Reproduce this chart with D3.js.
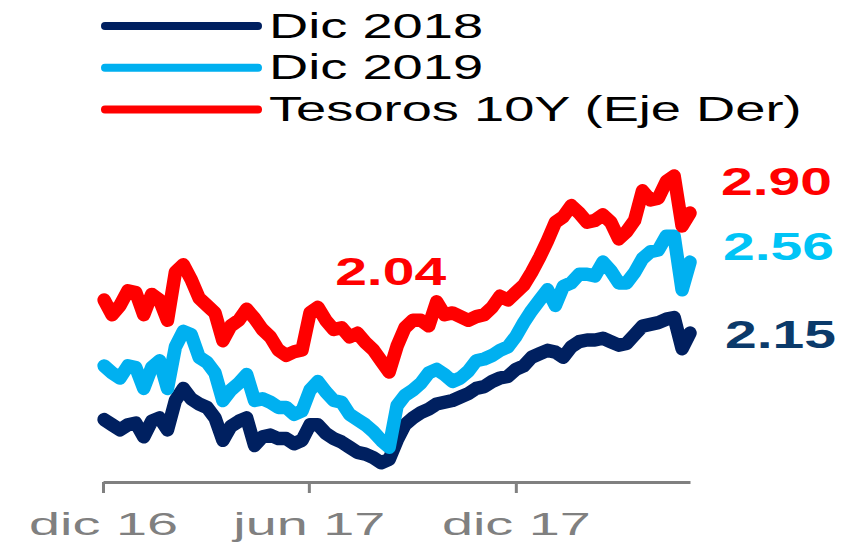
<!DOCTYPE html>
<html>
<head>
<meta charset="utf-8">
<script src="https://cdn.jsdelivr.net/npm/d3@7"></script>
<style>
    body { margin: 0; background: #fff; }
    svg { display: block; font-family: "Liberation Sans", Arial, sans-serif; }
    .x.axis path, .x.axis line { stroke: #808080; stroke-width: 3; }
    .x.axis text { fill: #808080; font-size: 31px; }
</style>
</head>
<body>
<div class="chartContainer"></div>
<script>
//weekly closes, dic 2016 - may 2018
const firstDay = new Date(2016, 11, 2);
const lastDay = new Date(2018, 4, 5);

//implied rate, Dic 2018 contract (left axis)
const dic2018 = [1.65, 1.62, 1.59, 1.62, 1.63, 1.55, 1.64, 1.66, 1.59, 1.76,
                 1.83, 1.77, 1.74, 1.72, 1.66, 1.53, 1.61, 1.64, 1.66, 1.50,
                 1.55, 1.56, 1.54, 1.54, 1.51, 1.53, 1.62, 1.62, 1.57, 1.54,
                 1.52, 1.49, 1.46, 1.45, 1.43, 1.40, 1.42, 1.53, 1.62, 1.66,
                 1.69, 1.71, 1.74, 1.75, 1.76, 1.78, 1.80, 1.83, 1.84, 1.87,
                 1.89, 1.90, 1.94, 1.96, 2.01, 2.03, 2.05, 2.04, 2.01, 2.07,
                 2.10, 2.11, 2.11, 2.12, 2.10, 2.08, 2.09, 2.14, 2.19, 2.20,
                 2.21, 2.23, 2.24, 2.06, 2.15];

//implied rate, Dic 2019 contract (left axis)
const dic2019 = [1.96, 1.92, 1.89, 1.96, 1.95, 1.83, 1.95, 1.99, 1.83, 2.07,
                 2.16, 2.14, 2.01, 1.98, 1.92, 1.76, 1.82, 1.86, 1.91, 1.76,
                 1.77, 1.75, 1.72, 1.72, 1.68, 1.70, 1.82, 1.87, 1.81, 1.76,
                 1.75, 1.68, 1.65, 1.62, 1.58, 1.53, 1.49, 1.73, 1.79, 1.82,
                 1.86, 1.92, 1.94, 1.91, 1.87, 1.89, 1.93, 1.99, 2.00, 2.02,
                 2.05, 2.07, 2.13, 2.21, 2.28, 2.34, 2.40, 2.31, 2.42, 2.44,
                 2.49, 2.49, 2.48, 2.56, 2.51, 2.44, 2.44, 2.50, 2.58, 2.62,
                 2.63, 2.71, 2.71, 2.40, 2.56];

//10Y treasury yield (right axis)
const tesoros10y = [2.43, 2.35, 2.40, 2.48, 2.47, 2.35, 2.46, 2.43, 2.32, 2.58,
                    2.62, 2.54, 2.44, 2.40, 2.36, 2.21, 2.29, 2.32, 2.38, 2.33,
                    2.27, 2.23, 2.16, 2.13, 2.15, 2.16, 2.36, 2.39, 2.32, 2.27,
                    2.28, 2.23, 2.25, 2.20, 2.16, 2.10, 2.04, 2.18, 2.28, 2.32,
                    2.32, 2.29, 2.42, 2.35, 2.36, 2.34, 2.32, 2.34, 2.35, 2.39,
                    2.45, 2.43, 2.47, 2.51, 2.58, 2.66, 2.75, 2.85, 2.88, 2.94,
                    2.90, 2.85, 2.86, 2.89, 2.85, 2.76, 2.80, 2.86, 3.02, 2.97,
                    2.98, 3.07, 3.10, 2.83, 2.90];

const seriesNames = ['Dic 2018', 'Dic 2019', 'Tesoros 10Y (Eje Der)'];
const tickDates = [new Date(2016, 11, 1), new Date(2017, 5, 1), new Date(2017, 11, 1)];
const tickLabels = ['dic 16', 'jun 17', 'dic 17'];

const colors = { dic2018: '#002060', dic2019: '#00B0F0', tesoros: '#FF0000' };

const width = 855;
const height = 549;

const svg = d3.select('.chartContainer')
    .append('svg')
    .attr('width', width)
    .attr('height', height);

const dates = d3.timeFriday.range(firstDay, lastDay);

//x scale: first tick sits on the left end of the axis
const xScale = d3.scaleTime()
    .domain([tickDates[0], d3.timeDay.offset(lastDay, -1)])
    .range([103, 690]);

//the two value axes are hidden, only the scales are used
const yLeft = d3.scaleLinear().domain([1, 3]).range([532, 186]);
const yRight = d3.scaleLinear().domain([1.5, 3.5]).range([472, 102]);

const series = [
    { key: 'dic2018', values: dic2018, y: yLeft },
    { key: 'dic2019', values: dic2019, y: yLeft },
    { key: 'tesoros', values: tesoros10y, y: yRight }
];

//x axis
const xAxis = d3.axisBottom(xScale)
    .tickValues(tickDates)
    .tickFormat((d, i) => tickLabels[i])
    .tickSizeInner(11)
    .tickSizeOuter(0);

const xAxisDraw = svg.append('g')
    .attr('class', 'x axis')
    .attr('transform', 'translate(0, 482)')
    .call(xAxis);

xAxisDraw.selectAll('text')
    .attr('y', 53)
    .attr('dy', 0)
    .attr('transform', 'scale(1.8, 1)');

//lines
series.forEach(s => {
    const line = d3.line()
        .x((d, i) => xScale(dates[i]))
        .y(d => s.y(d));

    svg.append('path')
        .datum(s.values)
        .attr('class', 'line ' + s.key)
        .attr('d', line)
        .attr('fill', 'none')
        .attr('stroke', colors[s.key])
        .attr('stroke-width', 13.5)
        .attr('stroke-linejoin', 'round')
        .attr('stroke-linecap', 'round');
});

//legend
const legend = svg.append('g').attr('class', 'legend');
series.forEach((s, i) => {
    const rowY = 26 + i * 41.7;
    legend.append('line')
        .attr('x1', 105).attr('x2', 258)
        .attr('y1', rowY).attr('y2', rowY)
        .attr('stroke', colors[s.key])
        .attr('stroke-width', 8)
        .attr('stroke-linecap', 'round');
    legend.append('text')
        .attr('transform', `translate(269, ${rowY + 11.5}) scale(1.55, 1)`)
        .style('font-size', '35px')
        .style('fill', '#000')
        .text(seriesNames[i]);
});

//value labels
const last = dates.length - 1;
const minIdx = d3.minIndex(tesoros10y);
const labels = [
    { text: d3.format('.2f')(tesoros10y[last]), color: '#FF0000', x: xScale(dates[last]) + 31, y: yRight(tesoros10y[last]) - 18 },
    { text: d3.format('.2f')(dic2019[last]), color: '#00C4F6', x: xScale(dates[last]) + 33, y: yLeft(dic2019[last]) - 2 },
    { text: d3.format('.2f')(dic2018[last]), color: '#0B3A6A', x: xScale(dates[last]) + 35, y: yLeft(dic2018[last]) + 15 },
    { text: d3.format('.2f')(tesoros10y[minIdx]), color: '#FF0000', x: xScale(dates[minIdx]) - 54, y: yRight(tesoros10y[minIdx]) - 87 }
];

svg.append('g')
    .attr('class', 'value-labels')
    .selectAll('text')
    .data(labels)
    .enter()
    .append('text')
    .attr('transform', d => `translate(${d.x}, ${d.y}) scale(1.5, 1)`)
    .style('font-size', '38px')
    .style('font-weight', 'bold')
    .style('fill', d => d.color)
    .text(d => d.text);
</script>
</body>
</html>
